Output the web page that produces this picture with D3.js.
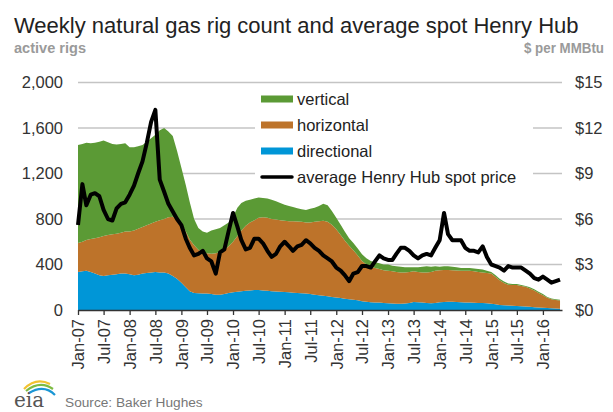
<!DOCTYPE html>
<html>
<head>
<meta charset="utf-8">
<script src="https://cdn.jsdelivr.net/npm/d3@7"></script>
<style>
  body { margin: 0; background: #fff; }
  svg { display: block; font-family: "Liberation Sans", Arial, sans-serif; }
</style>
</head>
<body>
<div class="chart"></div>
<script>
// monthly readings, Jan 2007 .. May 2016
var directional = [
  335,340,345,335,320,305,300,305,310,315,320,320,
  315,305,310,320,325,330,335,330,330,320,300,275,
  240,200,165,150,148,145,145,140,135,135,140,150,
  155,160,165,170,172,175,176,172,170,165,162,160,
  158,155,152,150,148,145,140,135,130,125,120,115,
  110,105,100,95,90,85,78,72,68,65,65,62,
  60,58,55,55,58,62,70,68,65,62,60,62,
  68,70,72,72,70,68,66,65,64,62,62,60,
  55,50,45,42,40,38,35,32,30,28,25,22,
  20,18,16,14,12
];
var horizontal = [
  255,260,270,290,310,335,350,355,355,355,360,370,
  375,395,405,410,420,430,440,460,470,495,520,525,
  520,490,455,420,382,365,355,355,365,375,390,410,
  445,490,535,570,598,615,634,643,640,635,633,630,
  627,625,628,628,627,625,630,640,650,660,655,635,
  600,555,510,470,435,395,352,328,312,305,295,288,
  285,282,280,275,272,273,270,267,265,268,275,283,
  282,282,280,278,278,277,279,280,276,273,268,265,
  265,240,217,196,182,182,185,180,174,162,147,128,
  110,90,79,74,72
];
var vertical = [
  860,860,855,840,840,840,840,815,795,785,780,775,
  740,730,725,720,735,750,765,790,800,755,710,600,
  490,410,330,230,190,180,180,205,210,210,215,210,
  220,250,240,220,200,190,180,170,170,170,160,150,
  140,135,125,117,110,110,120,125,135,150,145,120,
  100,90,80,65,65,60,60,55,50,50,50,50,
  55,50,50,50,45,40,35,40,50,55,45,40,
  30,33,33,30,27,25,25,25,25,25,25,20,
  15,15,13,12,10,9,8,8,8,10,10,10,
  10,7,7,6,6
];
var price = [
  5.6,8.3,6.9,7.6,7.7,7.5,6.6,6.0,5.9,6.7,7.0,7.1,
  7.6,8.2,9.0,9.8,11.0,12.4,13.2,8.6,7.8,7.0,6.5,6.0,
  5.6,4.7,4.1,3.6,3.7,3.9,3.4,3.2,2.4,3.8,4.0,5.2,
  6.4,5.5,4.6,4.0,4.1,4.7,4.7,4.4,3.9,3.5,3.7,4.2,
  4.5,4.2,3.9,4.2,4.3,4.6,4.4,4.1,3.9,3.6,3.4,3.2,
  2.8,2.6,2.3,1.9,2.4,2.5,2.9,2.9,2.8,3.2,3.6,3.4,
  3.3,3.3,3.7,4.1,4.1,3.9,3.6,3.4,3.6,3.7,3.6,4.1,
  4.6,6.4,5.0,4.6,4.6,4.6,4.1,3.9,3.9,3.8,4.2,3.5,
  3.0,2.9,2.8,2.6,2.9,2.8,2.8,2.8,2.6,2.4,2.1,2.0,
  2.2,2.0,1.8,1.9,2.0
];
var rigTicks = [0, 400, 800, 1200, 1600, 2000];
var priceTicks = [0, 3, 6, 9, 12, 15];
var seriesKeys = ["directional", "horizontal", "vertical"];
var legendItems = ["vertical", "horizontal", "directional", "average Henry Hub spot price"];

var months = d3.timeMonth.range(new Date(2007, 0, 1), new Date(2016, 5, 1));
var rows = months.map(function(m, i) {
  return { date: m, directional: directional[i], horizontal: horizontal[i], vertical: vertical[i], price: price[i] };
});

var colors = { vertical: "#5b9a35", horizontal: "#bd732a", directional: "#0096d7" };

var width = 613, height = 412;
var svg = d3.select(".chart").append("svg")
  .attr("width", width)
  .attr("height", height);

var x = d3.scaleTime()
  .domain([new Date(2007, 0, 1), new Date(2016, 4, 15)])
  .range([78, 562]);
var y = d3.scaleLinear().domain([0, 2000]).range([310, 82.5]);
var yP = d3.scaleLinear().domain([0, 15]).range([310, 82.5]);

// titles
svg.append("text").attr("x", 14).attr("y", 33)
  .attr("font-size", 22).attr("fill", "#222")
  .text("Weekly natural gas rig count and average spot Henry Hub");
svg.append("text").attr("x", 14).attr("y", 53)
  .attr("font-weight", "bold").attr("font-size", 15).attr("fill", "#9a9a9a")
  .attr("textLength", 72).attr("lengthAdjust", "spacingAndGlyphs")
  .text("active rigs");
svg.append("text").attr("x", 604).attr("y", 53).attr("text-anchor", "end")
  .attr("font-weight", "bold").attr("font-size", 15).attr("fill", "#9a9a9a")
  .attr("textLength", 80).attr("lengthAdjust", "spacingAndGlyphs")
  .text("$ per MMBtu");

// gridlines
svg.append("g").selectAll("line")
  .data(rigTicks.slice(1))
  .enter().append("line")
  .attr("x1", 78).attr("x2", 562)
  .attr("y1", function(d) { return y(d); })
  .attr("y2", function(d) { return y(d); })
  .attr("stroke", "#c4c4c4").attr("stroke-width", 1.3);

// stacked areas
var stacked = d3.stack().keys(seriesKeys)(rows);
var area = d3.area()
  .x(function(d) { return x(d.data.date); })
  .y0(function(d) { return y(d[0]); })
  .y1(function(d) { return y(d[1]); });

svg.append("g").selectAll("path")
  .data(stacked)
  .enter().append("path")
  .attr("d", area)
  .attr("fill", function(d) { return colors[d.key]; });

// price line
var line = d3.line()
  .x(function(d) { return x(d.date); })
  .y(function(d) { return yP(d.price); });
svg.append("path")
  .datum(rows)
  .attr("d", line)
  .attr("fill", "none")
  .attr("stroke", "#000")
  .attr("stroke-width", 4)
  .attr("stroke-linejoin", "round");

// left axis labels
svg.append("g").selectAll("text")
  .data(rigTicks)
  .enter().append("text")
  .attr("x", 63)
  .attr("y", function(d) { return y(d); })
  .attr("dy", "0.35em")
  .attr("text-anchor", "end")
  .attr("font-size", 16.5).attr("fill", "#333")
  .text(d3.format(","));

// right axis labels
svg.append("g").selectAll("text")
  .data(priceTicks)
  .enter().append("text")
  .attr("x", 575)
  .attr("y", function(d) { return yP(d); })
  .attr("dy", "0.35em")
  .attr("font-size", 16.5).attr("fill", "#333")
  .text(function(d) { return "$" + d; });

// bottom axis
var xAxis = d3.axisBottom(x)
  .ticks(d3.timeMonth.every(6))
  .tickFormat(d3.timeFormat("%b-%y"))
  .tickSize(5)
  .tickSizeOuter(0);
var gx = svg.append("g").attr("transform", "translate(0,310)").call(xAxis);
gx.select(".domain").attr("stroke", "#333").attr("stroke-width", 1.5);
gx.selectAll(".tick line").attr("stroke", "#333").attr("stroke-width", 1.3);
gx.selectAll(".tick text")
  .attr("transform", "rotate(-90)")
  .attr("text-anchor", "end")
  .attr("x", -9).attr("y", 0).attr("dy", "0.35em")
  .attr("font-family", "'Liberation Sans', Arial, sans-serif")
  .attr("font-size", 16.5).attr("fill", "#333");

// legend
var legend = svg.append("g");
legend.append("rect")
  .attr("x", 255).attr("y", 87).attr("width", 278).attr("height", 102)
  .attr("fill", "#fff");
var li = legend.selectAll(".li")
  .data(legendItems)
  .enter().append("g")
  .attr("class", "li")
  .attr("transform", function(d, i) { return "translate(0," + (99 + i * 26) + ")"; });
li.each(function(d, i) {
  var g = d3.select(this);
  if (i < 3) {
    g.append("rect").attr("x", 261).attr("y", -3.5).attr("width", 32).attr("height", 7)
      .attr("fill", colors[d]);
  } else {
    g.append("line").attr("x1", 262).attr("x2", 292)
      .attr("stroke", "#000").attr("stroke-width", 3.5).attr("stroke-linecap", "round");
  }
  g.append("text").attr("x", 297).attr("dy", "0.35em")
    .attr("font-size", 16.5).attr("fill", "#222")
    .text(d);
});

// eia logo + source
var logo = svg.append("g");
logo.append("path").attr("d", "M24,389 Q36,377 50,384").attr("fill", "none")
  .attr("stroke", "#f2c230").attr("stroke-width", 2.2);
logo.append("path").attr("d", "M26,391 Q40,380 53,389").attr("fill", "none")
  .attr("stroke", "#7dbb42").attr("stroke-width", 2.2);
logo.append("path").attr("d", "M29,393 Q44,384 55,395").attr("fill", "none")
  .attr("stroke", "#1a96d4").attr("stroke-width", 2.2);
logo.append("text").attr("x", 14).attr("y", 407)
  .attr("font-family", "'DejaVu Serif', serif").attr("font-size", 20).attr("fill", "#555")
  .text("eia");
svg.append("text").attr("x", 65).attr("y", 407)
  .attr("font-size", 13.7).attr("fill", "#777")
  .text("Source: Baker Hughes");
</script>
</body>
</html>
